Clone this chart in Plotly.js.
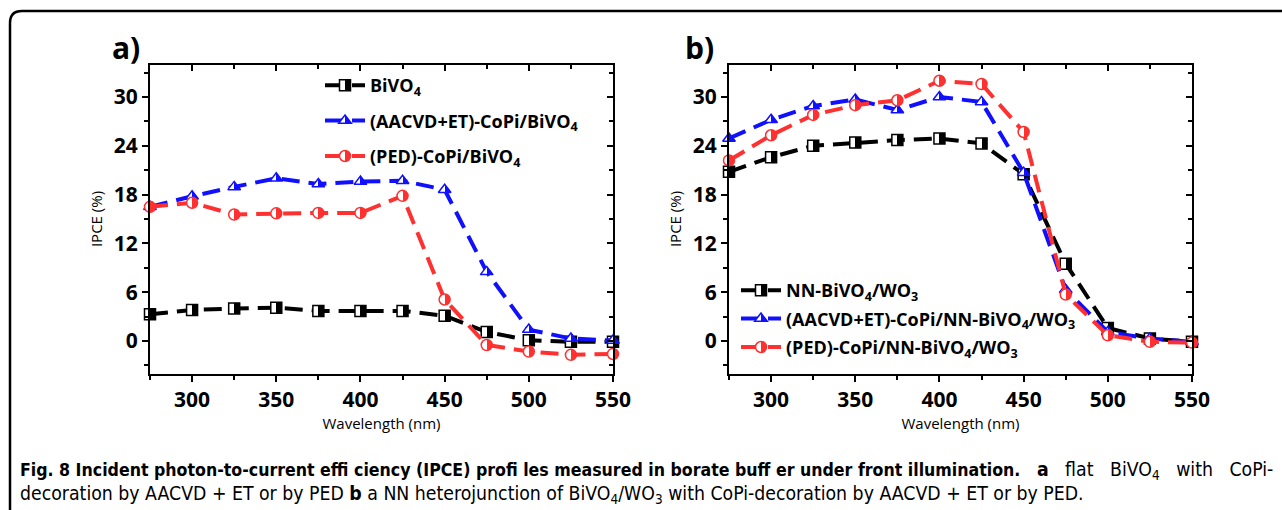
<!DOCTYPE html>
<html>
<head>
<meta charset="utf-8">
<script src="https://cdn.plot.ly/plotly-3.0.1.min.js"></script>
<style>html,body{margin:0;padding:0;background:#fff;}#chart{width:1282px;height:510px;}</style>
</head>
<body>
<div id="chart"></div>
<script>
// Wavelengths (nm)
const wavelength = [275, 300, 325, 350, 375, 400, 425, 450, 475, 500, 525, 550];

// Panel a) IPCE (%)
const bivo4      = [3.3, 3.8, 4.0, 4.1, 3.7, 3.7, 3.7, 3.1, 1.1, 0.1, -0.1, -0.1];
const aacvdBiVO4 = [16.5, 17.8, 18.95, 20.0, 19.3, 19.6, 19.7, 18.6, 8.5, 1.4, 0.3, 0.05];
const pedBiVO4   = [16.5, 17.0, 15.55, 15.7, 15.75, 15.75, 17.85, 5.1, -0.5, -1.3, -1.7, -1.6];

// Panel b) IPCE (%)
const nnBiVO4WO3      = [20.8, 22.6, 24.0, 24.4, 24.7, 24.9, 24.3, 20.5, 9.5, 1.6, 0.3, -0.1];
const aacvdNNBiVO4WO3 = [24.9, 27.2, 28.9, 29.7, 28.4, 30.0, 29.4, 20.7, 6.3, 1.1, 0.3, -0.1];
const pedNNBiVO4WO3   = [22.2, 25.3, 27.8, 29.0, 29.6, 32.0, 31.6, 25.7, 5.7, 0.7, -0.1, -0.2];

// Labels
const namesA = ['BiVO<sub>4</sub>', '(AACVD+ET)-CoPi/BiVO<sub>4</sub>', '(PED)-CoPi/BiVO<sub>4</sub>'];
const namesB = ['NN-BiVO<sub>4</sub>/WO<sub>3</sub>', '(AACVD+ET)-CoPi/NN-BiVO<sub>4</sub>/WO<sub>3</sub>', '(PED)-CoPi/NN-BiVO<sub>4</sub>/WO<sub>3</sub>'];
const xTitle = 'Wavelength (nm)';
const yTitle = 'IPCE (%)';
const captionBold = 'Fig. 8 Incident photon-to-current effi ciency (IPCE) profi les measured in borate buff er under front illumination.';
const captionLine1 = '<b>a</b>&nbsp;&nbsp;&nbsp;flat&nbsp;&nbsp;&nbsp;BiVO<sub>4</sub>&nbsp;&nbsp;&nbsp;with&nbsp;&nbsp;&nbsp;CoPi-';
const captionLine2 = 'decoration by AACVD + ET or by PED <b>b</b> a NN heterojunction of BiVO<sub>4</sub>/WO<sub>3</sub> with CoPi-decoration by AACVD + ET or by PED.';

const colors = ['#000000', '#1010ff', '#ff3030'];
const symbols = ['square', 'triangle-up', 'circle'];

function mk(x, y, name, i, xa, ya, leg) {
  return {
    x: x, y: y, name: name, type: 'scatter', mode: 'lines+markers',
    xaxis: xa, yaxis: ya, legend: leg, legendgroup: leg + i,
    line: {color: colors[i], width: 4, dash: '18px,9px'},
    marker: {symbol: symbols[i], size: 11, color: '#ffffff',
             gradient: {type: 'horizontal', color: colors[i]},
             line: {color: colors[i], width: 1.5}},
    cliponaxis: false
  };
}

const data = [
  mk(wavelength, bivo4, namesA[0], 0, 'x', 'y', 'legend'),
  mk(wavelength, aacvdBiVO4, namesA[1], 1, 'x', 'y', 'legend'),
  mk(wavelength, pedBiVO4, namesA[2], 2, 'x', 'y', 'legend'),
  mk(wavelength, nnBiVO4WO3, namesB[0], 0, 'x2', 'y2', 'legend2'),
  mk(wavelength, aacvdNNBiVO4WO3, namesB[1], 1, 'x2', 'y2', 'legend2'),
  mk(wavelength, pedNNBiVO4WO3, namesB[2], 2, 'x2', 'y2', 'legend2'),
  {x: [], y: [], xaxis: 'x3', yaxis: 'y3', type: 'scatter', showlegend: false},
  {x: [], y: [], xaxis: 'x4', yaxis: 'y4', type: 'scatter', showlegend: false}
];

const W = 1282, H = 510;
const xr = [275, 550], yr = [-4, 34];
const yDom = [1 - 373.5 / H, 1 - 64.5 / H];
const domA = [150 / W, 613 / W];
const domB = [729 / W, 1192 / W];

const tickFont = {family: 'Open Sans, sans-serif', size: 21, weight: 'bold', color: '#000'};
const titleFont = {family: 'Open Sans, sans-serif', size: 15, color: '#000'};

function xMain(dom, anchor) {
  return {domain: dom, anchor: anchor, range: xr, dtick: 50, tick0: 300,
    ticks: 'outside', ticklen: 6, tickwidth: 2, tickcolor: '#000',
    minor: {dtick: 25, tick0: 275, ticks: 'outside', ticklen: 4, tickwidth: 2, tickcolor: '#000'},
    showline: true, linewidth: 2, linecolor: '#000', showgrid: false, zeroline: false,
    tickfont: tickFont, title: {text: xTitle, font: titleFont, standoff: 6}, automargin: false};
}
function yMain(anchor) {
  return {domain: yDom, anchor: anchor, range: yr, dtick: 6, tick0: 0,
    ticks: 'outside', ticklen: 6, tickwidth: 2, tickcolor: '#000',
    minor: {dtick: 3, tick0: 0, ticks: 'outside', ticklen: 4, tickwidth: 2, tickcolor: '#000'},
    showline: true, linewidth: 2, linecolor: '#000', showgrid: false, zeroline: false,
    tickfont: tickFont, title: {text: yTitle, font: titleFont, standoff: 8}, automargin: false};
}
function xMirror(over, anchor) {
  return {overlaying: over, anchor: anchor, side: 'top', range: xr, dtick: 50, tick0: 300,
    ticks: 'inside', ticklen: 6, tickwidth: 2, tickcolor: '#000',
    minor: {dtick: 25, tick0: 275, ticks: 'inside', ticklen: 4, tickwidth: 2, tickcolor: '#000'},
    showline: true, linewidth: 2, linecolor: '#000', showgrid: false, zeroline: false, showticklabels: false, automargin: false};
}
function yMirror(over, anchor) {
  return {overlaying: over, anchor: anchor, side: 'right', range: yr, dtick: 6, tick0: 0,
    ticks: 'inside', ticklen: 6, tickwidth: 2, tickcolor: '#000',
    minor: {dtick: 3, tick0: 0, ticks: 'inside', ticklen: 4, tickwidth: 2, tickcolor: '#000'},
    showline: true, linewidth: 2, linecolor: '#000', showgrid: false, zeroline: false, showticklabels: false, automargin: false};
}

const legFont = {family: 'Open Sans, sans-serif', size: 18, weight: 'bold', color: '#000'};

const capFont = {family: 'DejaVu Sans Condensed, sans-serif', size: 19.3, color: '#000'};

const layout = {
  width: W, height: H,
  margin: {l: 0, r: 0, t: 0, b: 0},
  paper_bgcolor: '#fff', plot_bgcolor: 'rgba(0,0,0,0)',
  xaxis: xMain(domA, 'y'),
  yaxis: yMain('x'),
  xaxis2: xMain(domB, 'y2'),
  yaxis2: yMain('x2'),
  xaxis3: Object.assign(xMirror('x', 'y3'), {domain: domA}),
  yaxis3: Object.assign(yMirror('y', 'x3'), {domain: yDom}),
  xaxis4: Object.assign(xMirror('x2', 'y4'), {domain: domB}),
  yaxis4: Object.assign(yMirror('y2', 'x4'), {domain: yDom}),
  legend: {x: 320 / W, y: 1 - 67 / H, xanchor: 'left', yanchor: 'top', bgcolor: 'rgba(0,0,0,0)',
           font: legFont, traceorder: 'grouped', tracegroupgap: 9, itemwidth: 40},
  legend2: {x: 736 / W, y: 1 - 272 / H, xanchor: 'left', yanchor: 'top', bgcolor: 'rgba(0,0,0,0)',
            font: legFont, traceorder: 'grouped', tracegroupgap: 2, itemwidth: 40},
  annotations: [
    {text: '<b>a)</b>', x: 110 / W, y: 1 - 47 / H, xref: 'paper', yref: 'paper', xanchor: 'left', yanchor: 'middle',
     showarrow: false, font: {family: 'Open Sans, sans-serif', size: 30, color: '#000'}},
    {text: '<b>b)</b>', x: 683 / W, y: 1 - 47 / H, xref: 'paper', yref: 'paper', xanchor: 'left', yanchor: 'middle',
     showarrow: false, font: {family: 'Open Sans, sans-serif', size: 30, color: '#000'}},
    {text: '<span style="font-size:17.6px"><b>' + captionBold + '</b></span>&nbsp;&nbsp;&nbsp;' + captionLine1,
     x: 18 / W, y: 1 - 470 / H, xref: 'paper', yref: 'paper', xanchor: 'left', yanchor: 'middle',
     showarrow: false, font: capFont},
    {text: captionLine2,
     x: 18 / W, y: 1 - 494 / H, xref: 'paper', yref: 'paper', xanchor: 'left', yanchor: 'middle',
     showarrow: false, font: capFont}
  ],
  shapes: [
    {type: 'path', xref: 'paper', yref: 'paper',
     path: 'M ' + (10 / W) + ' 0 L ' + (10 / W) + ' ' + (1 - 23 / H) + ' Q ' + (10 / W) + ' ' + (1 - 11 / H) + ' ' + (22 / W) + ' ' + (1 - 11 / H) + ' L 1 ' + (1 - 11 / H),
     line: {color: '#000', width: 2.5}}
  ],
  showlegend: true
};

// Turn the smooth horizontal marker gradients into crisp half-filled markers (right half filled).
function halfFill(gd) {
  gd.querySelectorAll('linearGradient').forEach(function (g) {
    const stops = Array.from(g.querySelectorAll('stop'));
    let col = null;
    stops.forEach(function (s) {
      const c = (s.getAttribute('stop-color') || '').replace(/\s/g, '');
      if (c && c !== 'rgb(255,255,255)' && c !== '#ffffff' && c !== 'white') col = s.getAttribute('stop-color');
    });
    if (!col) return;
    stops.forEach(function (s) { s.remove(); });
    const ns = 'http://www.w3.org/2000/svg';
    [['0%', '#ffffff'], ['50%', '#ffffff'], ['50%', col], ['100%', col]].forEach(function (p) {
      const s = document.createElementNS(ns, 'stop');
      s.setAttribute('offset', p[0]);
      s.setAttribute('stop-color', p[1]);
      s.setAttribute('stop-opacity', '1');
      g.appendChild(s);
    });
    g.setAttribute('x1', '0'); g.setAttribute('x2', '1');
    g.setAttribute('y1', '0'); g.setAttribute('y2', '0');
  });
}

Plotly.newPlot('chart', data, layout, {staticPlot: true, displayModeBar: false}).then(halfFill);
</script>
</body>
</html>
